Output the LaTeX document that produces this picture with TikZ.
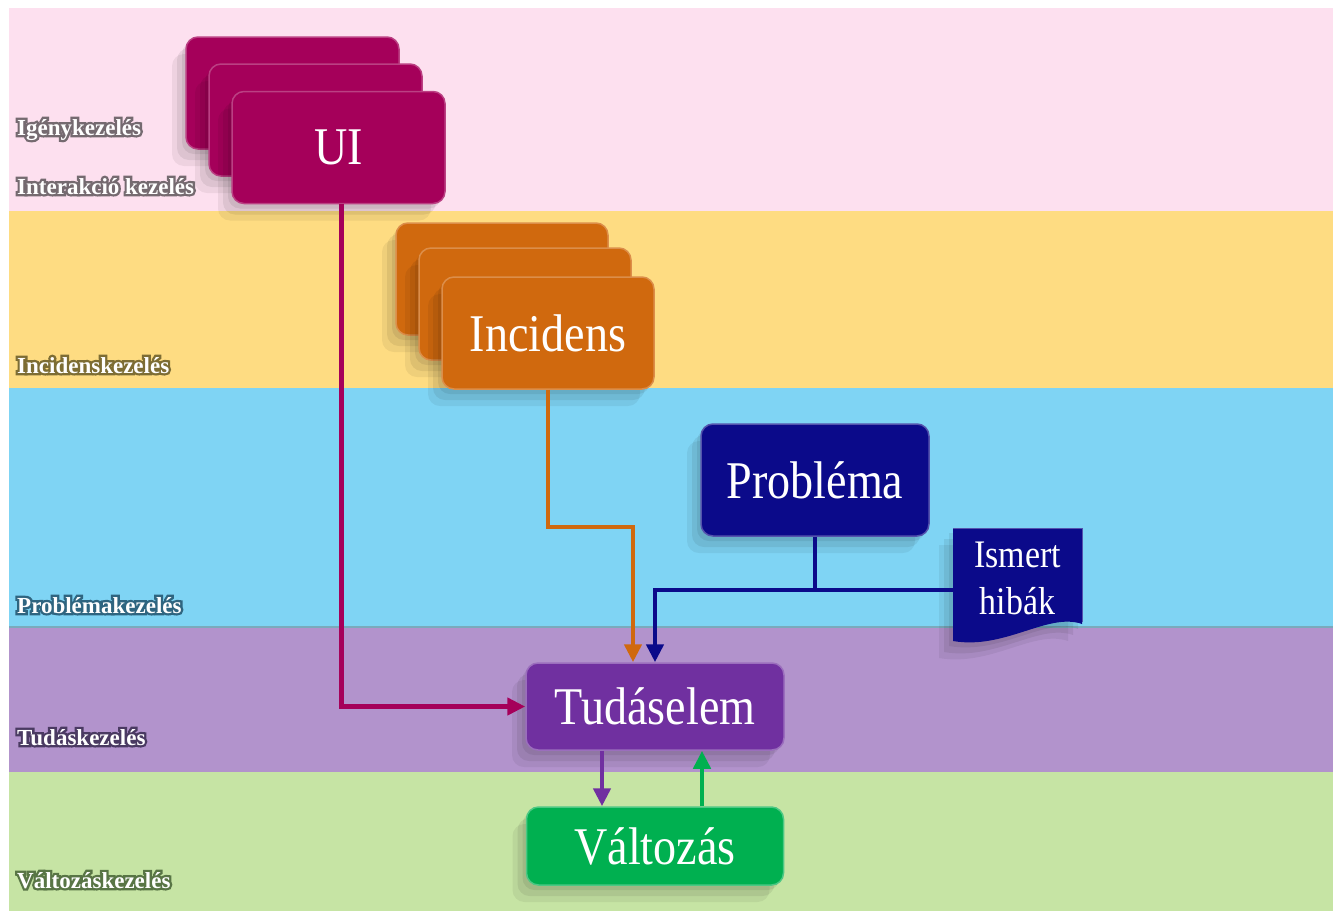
\documentclass[tikz,border=0pt]{standalone}
\usepackage{fontspec}
\setmainfont{Liberation Serif}
\newfontfamily\boxfont[FakeStretch=0.87]{Liberation Serif}
\newfontfamily\labText{Liberation Serif}
\newfontfamily\labHalo{Liberation Serif}[FakeBold=20]
\usetikzlibrary{arrows.meta,shadows}

% band colours
\definecolor{bandPink}{HTML}{FDE0EF}
\definecolor{bandYellow}{HTML}{FEDC82}
\definecolor{bandBlue}{HTML}{7FD4F4}
\definecolor{bandPurple}{HTML}{B293CC}
\definecolor{bandGreen}{HTML}{C6E4A4}
% box colours
\definecolor{uiCol}{HTML}{A5005A}
\definecolor{incCol}{HTML}{D0690E}
\definecolor{probCol}{HTML}{0B0A8A}
\definecolor{tudCol}{HTML}{7030A0}
\definecolor{valtCol}{HTML}{00B050}
% halo colours of the band labels
\definecolor{haloPink}{HTML}{756A70}
\definecolor{haloYellow}{HTML}{7D6D34}
\definecolor{haloBlue}{HTML}{2F6580}
\definecolor{haloPurple}{HTML}{4A3A62}
\definecolor{haloGreen}{HTML}{587545}

% white bold text over an emboldened coloured copy (glow outline)
\newcommand\halotext[2]{%
  \begingroup
  \setbox0\hbox{\labHalo\bfseries #2}%
  \setbox2\hbox{\labText\bfseries #2}%
  \rlap{\color{#1}\copy0}\box2
  \endgroup}

\tikzset{
  softshadow/.style={
    general shadow={fill=black, opacity=.07, shadow xshift=-4pt, shadow yshift=-5pt},
    general shadow={fill=black, opacity=.07, shadow xshift=-9pt, shadow yshift=-11pt},
    general shadow={fill=black, opacity=.06, shadow xshift=-14pt, shadow yshift=-17pt}},
  box/.style={rectangle, rounded corners=12pt, line width=1.5pt, text=white,
    inner sep=0pt, font=\boxfont\fontsize{53}{56}\selectfont, softshadow},
  uibox/.style={box, fill=uiCol, draw=uiCol!75!white,
    minimum width=213pt, minimum height=112pt},
  incbox/.style={box, fill=incCol, draw=incCol!75!white,
    minimum width=212pt, minimum height=112pt},
  probbox/.style={box, fill=probCol, draw=probCol!70!white,
    minimum width=228pt, minimum height=112pt},
  tudbox/.style={box, fill=tudCol, draw=tudCol!70!white,
    minimum width=258pt, minimum height=87pt},
  valtbox/.style={box, fill=valtCol, draw=valtCol!70!white,
    minimum width=257pt, minimum height=78pt},
  bandlabel/.style={anchor=base west, inner sep=0pt, text=white,
    font=\fontsize{23}{25}\selectfont},
  link/.style={line width=4.8pt},
  tip/.style={-{Triangle[length=18pt,width=17pt]}},
}

\begin{document}
\begin{tikzpicture}[x=1pt, y=-1pt]
\useasboundingbox (0,0) rectangle (1333,911);
\fill[white] (0,0) rectangle (1333,911);

% horizontal process bands
\fill[bandPink]   (9,8)   rectangle (1333,211);
\fill[bandYellow] (9,211) rectangle (1333,388);
\fill[bandBlue]   (9,388) rectangle (1333,627);
\fill[bandPurple] (9,627) rectangle (1333,772);
\fill[bandGreen]  (9,772) rectangle (1333,911);
\draw[line width=2pt, color=bandBlue!70!black!80] (9,627) -- (1333,627);

% band names
\node[bandlabel] (lIgeny) at (17,135) {\halotext{haloPink}{Igénykezelés}};
\node[bandlabel] (lInter) at (17,194) {\halotext{haloPink}{Interakció kezelés}};
\node[bandlabel] (lInc)   at (17,373) {\halotext{haloYellow}{Incidenskezelés}};
\node[bandlabel] (lProb)  at (17,613) {\halotext{haloBlue}{Problémakezelés}};
\node[bandlabel] (lTud)   at (17,745) {\halotext{haloPurple}{Tudáskezelés}};
\node[bandlabel] (lValt)  at (17,888) {\halotext{haloGreen}{Változáskezelés}};

% UI stack
\node[uibox] (ui3) at (292.5,93) {};
\node[uibox] (ui2) at (315.5,120) {};
\node[uibox] (ui)  at (338.5,147.5) {UI};

% Incidens stack
\node[incbox] (inc3) at (502,279) {};
\node[incbox] (inc2) at (525,304) {};
\node[incbox] (inc)  at (548,333) {Incidens};

% Probléma and the known-errors document
\node[probbox] (prob) at (815,480) {Probléma};
\fill[probCol, softshadow] (953,528) -- (1082,528) -- (1082,624)
  .. controls (1048,612) and (1005,650) .. (953,641) -- cycle;
\draw[probCol!70!white, line width=1pt] (953,528) -- (1082,528) -- (1082,622);
\node[inner sep=0pt, minimum width=129pt, minimum height=100pt, text=white,
  align=center, font=\boxfont\fontsize{39}{47}\selectfont] (ismert) at (1017.5,578)
  {Ismert\\hibák};

% knowledge item and change
\node[tudbox]  (tud)  at (655,706.5) {Tudáselem};
\node[valtbox] (valt) at (655,846)   {Változás};

% connectors
\draw[link, tip, color=uiCol] ([xshift=3pt]ui.south) |- (tud.west);

\coordinate (incbend) at (0,527);
\draw[link, tip, color=incCol] (inc.south) -- (inc.south |- incbend)
  -| ([xshift=-22pt]tud.north);

\coordinate (join) at ([yshift=-12pt]ismert.west);
\draw[link, color=probCol] (prob.south) -- (prob.south |- join);
\draw[link, tip, color=probCol] (join) -| (tud.north);

\draw[link, tip, color=tudCol] ([xshift=-53pt]tud.south) -- ([xshift=-53pt]valt.north);
\draw[link, tip, color=valtCol] ([xshift=47pt]valt.north) -- ([xshift=47pt]tud.south);
\end{tikzpicture}
\end{document}
